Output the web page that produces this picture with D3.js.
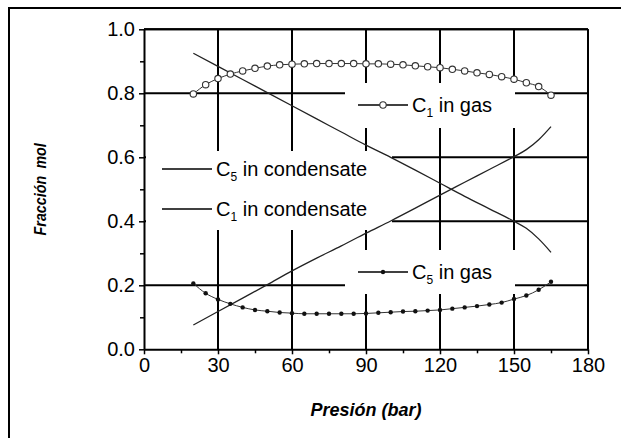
<!DOCTYPE html>
<html>
<head>
<meta charset="utf-8">
<script src="https://cdn.jsdelivr.net/npm/d3@7/dist/d3.min.js"></script>
<style>
  html, body { margin: 0; padding: 0; background: #fff; }
  svg { display: block; font-family: "Liberation Sans", Arial, Helvetica, sans-serif; }
</style>
</head>
<body>
<svg id="chart" width="621" height="438"></svg>
<script>
// Pressure grid of the gas-phase samples (bar)
const gasPressure = [20, 25, 30, 35, 40, 45, 50, 55, 60, 65, 70, 75, 80, 85, 90,
                     95, 100, 105, 110, 115, 120, 125, 130, 135, 140, 145, 150, 155, 160, 165];
// Methane mole fraction in the gas
const c1InGas = [0.798, 0.827, 0.846, 0.860, 0.870, 0.878, 0.885, 0.889, 0.891, 0.892,
                 0.893, 0.893, 0.893, 0.893, 0.892, 0.892, 0.891, 0.889, 0.886, 0.883,
                 0.880, 0.875, 0.870, 0.864, 0.859, 0.852, 0.844, 0.833, 0.821, 0.794];
// Pentane mole fraction in the gas
const c5InGas = [0.206, 0.175, 0.156, 0.142, 0.131, 0.123, 0.119, 0.115, 0.113, 0.111,
                 0.111, 0.111, 0.111, 0.111, 0.112, 0.114, 0.116, 0.118, 0.119, 0.121,
                 0.123, 0.127, 0.131, 0.135, 0.140, 0.146, 0.157, 0.168, 0.186, 0.211];
// Condensate compositions (bar)
const condPressure = [20, 30, 40, 50, 60, 70, 80, 90, 100, 110, 120, 130, 140, 150, 155, 160, 165];
const c5InCond = [0.925, 0.884, 0.843, 0.802, 0.761, 0.720, 0.679, 0.638, 0.600, 0.560,
                  0.519, 0.478, 0.439, 0.400, 0.378, 0.345, 0.303];
const c1InCond = [0.076, 0.118, 0.160, 0.202, 0.245, 0.285, 0.323, 0.363, 0.401, 0.441,
                  0.482, 0.522, 0.562, 0.602, 0.624, 0.655, 0.696];
// Axis ticks
const xMajor = [0, 30, 60, 90, 120, 150, 180];
const xMinor = [15, 45, 75, 105, 135, 165];
const yMajor = [0.0, 0.2, 0.4, 0.6, 0.8, 1.0];
const yMinor = [0.1, 0.3, 0.5, 0.7, 0.9];
const xTitle = "Presión (bar)";
const yTitle = "Fracción mol";

const svg = d3.select("#chart");
const W = 621, H = 438;
const plot = { left: 144, right: 588, top: 29.3, bottom: 349.3 };

const x = d3.scaleLinear().domain([0, 180]).range([plot.left, plot.right]);
const y = d3.scaleLinear().domain([0, 1]).range([plot.bottom, plot.top]);

svg.append("rect").attr("width", W).attr("height", H).attr("fill", "#fff");

// outer figure frame (runs off the bottom/right edge)
svg.append("rect")
  .attr("x", 9).attr("y", 8).attr("width", W + 20).attr("height", H + 20)
  .attr("fill", "none").attr("stroke", "#000").attr("stroke-width", 2);

// grid
const grid = svg.append("g").attr("stroke", "#000").attr("stroke-width", 2);
grid.selectAll("line.v").data(xMajor.filter(d => d > 0)).join("line")
  .attr("class", "v")
  .attr("x1", d => x(d)).attr("x2", d => x(d))
  .attr("y1", plot.top).attr("y2", plot.bottom);
grid.selectAll("line.h").data(yMajor.filter(d => d > 0)).join("line")
  .attr("class", "h")
  .attr("x1", plot.left).attr("x2", plot.right)
  .attr("y1", d => y(d)).attr("y2", d => y(d));

// white legend panels knock out the grid behind the labels
const panels = [
  { x0: 345, x1: 515, y0: 83, y1: 128 },
  { x0: 146, x1: 392, y0: 151, y1: 230 },
  { x0: 345, x1: 515, y0: 250, y1: 294 }
];
svg.append("g").selectAll("rect").data(panels).join("rect")
  .attr("x", d => d.x0).attr("y", d => d.y0)
  .attr("width", d => d.x1 - d.x0).attr("height", d => d.y1 - d.y0)
  .attr("fill", "#fff");

// axes
const fontSize = 20;
function styleAxis(g) {
  g.select(".domain").attr("stroke", "#000").attr("stroke-width", 2);
  g.selectAll(".tick line").attr("stroke", "#000").attr("stroke-width", 1.5);
  g.selectAll(".tick text").attr("fill", "#000")
    .attr("font-size", fontSize).attr("font-family", "Liberation Sans, Arial, sans-serif");
}
const xAxis = svg.append("g").attr("transform", `translate(0,${plot.bottom})`)
  .call(d3.axisBottom(x).tickValues(xMajor).tickFormat(d3.format("d"))
    .tickSizeInner(5).tickSizeOuter(0).tickPadding(4));
styleAxis(xAxis);
const xAxisMinor = svg.append("g").attr("transform", `translate(0,${plot.bottom})`)
  .call(d3.axisBottom(x).tickValues(xMinor).tickFormat("").tickSizeInner(4).tickSizeOuter(0));
styleAxis(xAxisMinor);
xAxisMinor.select(".domain").remove();

const yAxis = svg.append("g").attr("transform", `translate(${plot.left},0)`)
  .call(d3.axisLeft(y).tickValues(yMajor).tickFormat(d3.format(".1f"))
    .tickSizeInner(5).tickSizeOuter(0).tickPadding(4));
styleAxis(yAxis);
const yAxisMinor = svg.append("g").attr("transform", `translate(${plot.left},0)`)
  .call(d3.axisLeft(y).tickValues(yMinor).tickFormat("").tickSizeInner(4).tickSizeOuter(0));
styleAxis(yAxisMinor);
yAxisMinor.select(".domain").remove();

// plot frame top / right
svg.append("line").attr("x1", plot.left).attr("x2", plot.right)
  .attr("y1", plot.top).attr("y2", plot.top).attr("stroke", "#000").attr("stroke-width", 2);
svg.append("line").attr("x1", plot.right).attr("x2", plot.right)
  .attr("y1", plot.top).attr("y2", plot.bottom).attr("stroke", "#000").attr("stroke-width", 2);

// condensate curves
const condLine = d3.line().x(d => x(d[0])).y(d => y(d[1])).curve(d3.curveMonotoneX);
[c5InCond, c1InCond].forEach(vals => {
  svg.append("path")
    .datum(condPressure.map((p, i) => [p, vals[i]]))
    .attr("d", condLine)
    .attr("fill", "none").attr("stroke", "#222").attr("stroke-width", 1.3);
});

// gas curves with markers
const gasLine = d3.line().x(d => x(d[0])).y(d => y(d[1])).curve(d3.curveMonotoneX);
const c1Data = gasPressure.map((p, i) => [p, c1InGas[i]]);
const c5Data = gasPressure.map((p, i) => [p, c5InGas[i]]);
svg.append("path").datum(c1Data).attr("d", gasLine)
  .attr("fill", "none").attr("stroke", "#333").attr("stroke-width", 1);
svg.append("path").datum(c5Data).attr("d", gasLine)
  .attr("fill", "none").attr("stroke", "#333").attr("stroke-width", 1);
svg.append("g").selectAll("circle").data(c1Data).join("circle")
  .attr("cx", d => x(d[0])).attr("cy", d => y(d[1])).attr("r", 3.2)
  .attr("fill", "#fff").attr("stroke", "#333").attr("stroke-width", 1.1);
svg.append("g").selectAll("circle").data(c5Data).join("circle")
  .attr("cx", d => x(d[0])).attr("cy", d => y(d[1])).attr("r", 2.2)
  .attr("fill", "#111");

// legend entries
const legend = [
  { main: "C", sub: "1", rest: " in gas", lx0: 358, lx1: 408, ly: 105, marker: "open" },
  { main: "C", sub: "5", rest: " in condensate", lx0: 162, lx1: 212, ly: 169, marker: null },
  { main: "C", sub: "1", rest: " in condensate", lx0: 162, lx1: 212, ly: 209, marker: null },
  { main: "C", sub: "5", rest: " in gas", lx0: 358, lx1: 408, ly: 272, marker: "dot" }
];
const lg = svg.append("g");
legend.forEach(e => {
  lg.append("line").attr("x1", e.lx0).attr("x2", e.lx1).attr("y1", e.ly).attr("y2", e.ly)
    .attr("stroke", "#000").attr("stroke-width", 1.3);
  if (e.marker === "open") {
    lg.append("circle").attr("cx", (e.lx0 + e.lx1) / 2).attr("cy", e.ly).attr("r", 3.2)
      .attr("fill", "#fff").attr("stroke", "#333").attr("stroke-width", 1.1);
  } else if (e.marker === "dot") {
    lg.append("circle").attr("cx", (e.lx0 + e.lx1) / 2).attr("cy", e.ly).attr("r", 2.2)
      .attr("fill", "#111");
  }
  const t = lg.append("text").attr("x", e.lx1 + 4).attr("y", e.ly + 7)
    .attr("font-size", fontSize).attr("fill", "#000");
  t.append("tspan").text(e.main);
  t.append("tspan").attr("font-size", 12).attr("dy", 5).text(e.sub);
  t.append("tspan").attr("dy", -5).text(e.rest);
});

// axis titles
svg.append("text")
  .attr("x", (plot.left + plot.right) / 2).attr("y", 416)
  .attr("text-anchor", "middle")
  .attr("font-size", 18).attr("font-weight", "bold").attr("font-style", "italic")
  .text(xTitle);
// the vertical title is set in a narrow, condensed cut
svg.append("text")
  .attr("transform", `translate(46,${(plot.top + plot.bottom) / 2}) rotate(-90) scale(0.84,1)`)
  .attr("text-anchor", "middle")
  .attr("font-size", 17).attr("font-weight", "bold").attr("font-style", "italic")
  .attr("word-spacing", 4)
  .text(yTitle);
</script>
</body>
</html>
